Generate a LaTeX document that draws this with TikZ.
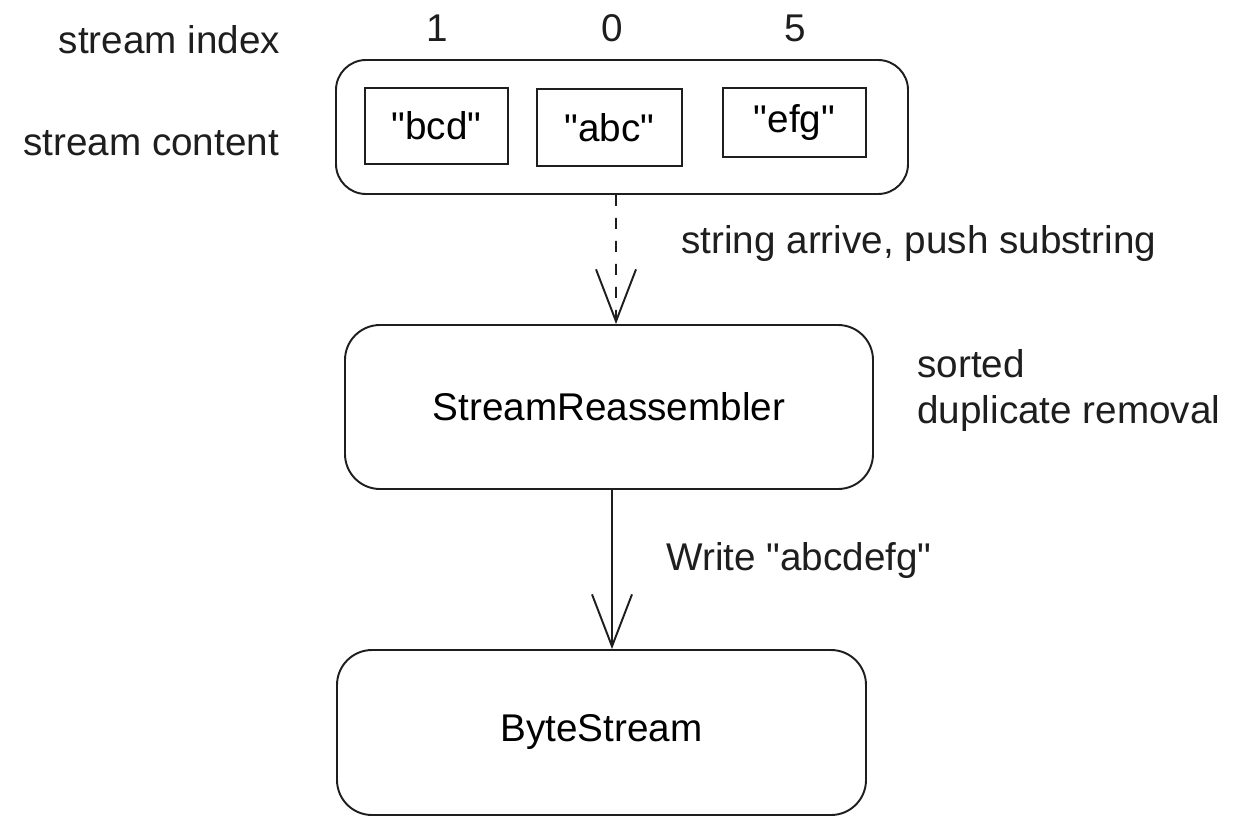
\documentclass[tikz,border=0pt]{standalone}
\usepackage{fontspec}
\setmainfont{Liberation Sans}
\usetikzlibrary{arrows.meta}
\usetikzlibrary{positioning}
\definecolor{InkDark}{RGB}{30,30,30}
\newcommand{\dq}{\textquotedbl}
\tikzset{
	frame/.style={draw=InkDark, line width=1.1pt, rounded corners=0.6cm},
	box/.style={draw=InkDark, line width=1.1pt, rounded corners=0.7cm, minimum width=10.56cm, minimum height=3.28cm},
	chunk/.style={draw=InkDark, line width=1.1pt, inner sep=0pt},
	push/.style={draw=InkDark, line width=1.1pt, dash pattern=on 0.22cm off 0.24cm, -{Straight Barb[length=1.04cm, width=0.8cm]}},
	write/.style={draw=InkDark, line width=1.1pt, -{Straight Barb[length=1.04cm, width=0.8cm]}},
	lab/.style={text=InkDark, inner sep=0pt}
}

\begin{document}
\begin{tikzpicture}[font=\fontsize{22}{26}\selectfont]
		\useasboundingbox (0,0) rectangle (25,-16.48);
		\node[frame, minimum width=11.44cm, minimum height=2.68cm] (outer) at (12.44,-2.54) {};
		\node[chunk, minimum width=2.86cm, minimum height=1.52cm] (bcd) at (8.73,-2.52) {\dq bcd\dq};
		\node[chunk, minimum width=2.9cm, minimum height=1.54cm] (abc) at (12.19,-2.55) {\dq abc\dq};
		\node[chunk, minimum width=2.86cm, minimum height=1.38cm] (efg) at (15.89,-2.45) {\dq efg\dq};
		\node[lab] (i1) at (8.74,-0.56) {1};
		\node[lab] (i0) at (12.24,-0.56) {0};
		\node[lab] (i5) at (15.9,-0.56) {5};
		\node[lab] (idx) at (3.39,-0.8) {stream index};
		\node[lab] (cont) at (3.02,-2.86) {stream content};
		\node[box] (reasm) at (12.18,-8.14) {StreamReassembler};
		\node[box, minimum width=10.58cm, minimum height=3.3cm] (byte) at (12.03,-14.65) {ByteStream};
		\node[lab, anchor=base west] (arrive) at (13.62,-5.06) {string arrive, push substring};
		\node[lab, anchor=base west, align=left] (sorted) at (18.34,-8.46) {sorted\\duplicate removal};
		\node[lab, anchor=base west] (wr) at (13.32,-11.4) {Write \dq abcdefg\dq};
		\draw[push] ([xshift=-0.12cm]outer.south) -- ([xshift=0.14cm]reasm.north);
		\draw[write] ([xshift=0.06cm]reasm.south) -- ([xshift=0.21cm]byte.north);
	\end{tikzpicture}
\end{document}
